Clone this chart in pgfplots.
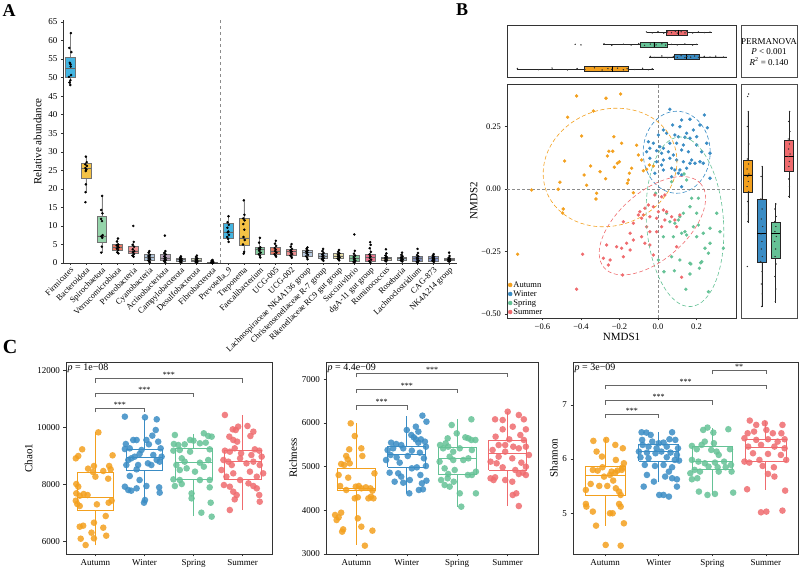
\documentclass[border=0pt]{standalone}
\usepackage{fontspec}
\setmainfont{Liberation Serif}
\usepackage{pgfplots}
\pgfplotsset{compat=1.18}
\usepackage{pgfplotstable}
\usepgfplotslibrary{statistics}

% season colours
\definecolor{cAut}{RGB}{243,160,30}
\definecolor{cWin}{RGB}{58,140,196}
\definecolor{cSpr}{RGB}{101,194,150}
\definecolor{cSum}{RGB}{239,107,110}
% taxon colours (panel A)
\definecolor{a0}{RGB}{34,168,221}
\definecolor{a1}{RGB}{242,183,37}
\definecolor{a2}{RGB}{131,204,155}
\definecolor{a3}{RGB}{225,95,70}
\definecolor{a4}{RGB}{236,127,128}
\definecolor{a5}{RGB}{165,188,212}
\definecolor{a6}{RGB}{176,150,178}
\definecolor{a7}{RGB}{163,182,200}
\definecolor{a8}{RGB}{196,203,170}
\definecolor{a9}{RGB}{190,180,150}
\definecolor{a12}{RGB}{115,196,144}
\definecolor{a13}{RGB}{222,96,74}
\definecolor{a14}{RGB}{232,122,124}
\definecolor{a15}{RGB}{168,190,216}
\definecolor{a16}{RGB}{165,185,205}
\definecolor{a17}{RGB}{232,222,160}
\definecolor{a18}{RGB}{108,192,138}
\definecolor{a19}{RGB}{226,92,122}
\definecolor{a20}{RGB}{218,200,170}
\definecolor{a21}{RGB}{160,185,200}
\definecolor{a22}{RGB}{100,118,170}
\definecolor{a23}{RGB}{120,140,205}
\definecolor{a24}{RGB}{160,165,180}

\newcommand{\fs}[1]{\fontsize{#1}{#1}\selectfont}

% ---------------- panel A: sample points ----------------
\pgfplotstableread{
x y
0.05 62.0
-0.05 58.0
0.08 56.9
-0.02 54.0
0.03 53.6
0.06 50.7
-0.07 50.2
0.02 49.3
-0.04 48.7
0.01 48.0
0.04 53.0
1.00 28.7
1.05 27.2
0.96 26.6
1.06 26.2
0.97 25.6
1.03 25.2
0.99 24.8
1.00 21.2
0.98 19.1
0.97 16.4
2.03 18.1
1.97 14.3
2.05 13.4
1.96 11.9
2.02 11.3
1.98 7.2
2.04 6.8
2.01 4.4
1.97 2.8
2.06 7.5
3.03 6.6
2.97 5.8
3.05 5.0
2.95 4.8
3.02 4.5
3.07 4.2
2.96 3.9
3.04 3.5
2.99 2.9
3.06 2.6
4.00 10.0
4.03 5.7
3.96 4.9
4.05 4.4
3.97 3.7
4.06 3.2
3.98 2.9
4.04 2.4
3.95 2.0
4.02 1.7
5.02 3.2
4.97 2.8
5.05 2.2
4.96 1.9
5.03 1.6
4.98 1.3
5.06 1.0
4.95 0.7
5.01 0.4
5.04 0.2
6.00 7.4
6.03 3.2
5.96 2.7
6.05 2.3
5.97 1.8
6.04 1.4
5.98 1.1
6.06 0.8
5.95 0.5
6.02 0.2
7.02 1.8
6.97 1.5
7.05 1.2
6.96 1.0
7.03 0.9
6.98 0.8
7.06 0.6
6.95 0.4
7.01 0.3
7.04 0.2
8.03 2.0
7.97 1.6
8.05 1.2
7.96 1.0
8.02 0.8
7.98 0.7
8.06 0.5
7.95 0.3
8.01 0.2
8.04 0.1
9.02 0.8
8.97 0.6
9.05 0.4
8.96 0.3
9.03 0.2
8.98 0.2
9.06 0.1
8.95 0.1
9.01 0.05
9.04 0.0
10.03 12.6
9.97 11.0
10.05 10.3
9.96 9.5
10.02 8.5
9.98 8.3
10.06 7.6
9.95 7.0
10.01 6.5
10.04 5.7
11.00 16.9
11.04 13.0
10.96 12.0
11.05 11.5
10.97 10.5
11.03 9.0
10.98 7.0
11.06 6.2
10.95 5.0
11.02 3.0
10.99 2.5
12.02 6.8
11.97 5.5
12.05 4.2
11.96 3.9
12.03 3.7
11.98 3.3
12.06 2.8
11.95 2.4
12.01 2.0
12.04 1.5
13.03 6.0
12.97 5.2
13.05 4.6
12.96 4.0
13.02 3.6
12.98 3.2
13.06 2.8
12.95 2.4
13.01 2.0
13.04 1.7
14.02 5.1
13.97 4.4
14.05 3.8
13.96 3.4
14.03 3.1
13.98 2.8
14.06 2.4
13.95 2.0
14.01 1.7
14.04 1.4
15.03 4.2
14.97 3.8
15.05 3.4
14.96 3.1
15.02 2.9
14.98 2.6
15.06 2.2
14.95 1.8
15.01 1.4
15.04 1.0
16.02 3.8
15.97 3.2
16.05 2.7
15.96 2.3
16.03 2.0
15.98 1.7
16.06 1.3
15.95 1.0
16.01 0.8
16.04 0.6
17.03 3.5
16.97 3.0
17.05 2.6
16.96 2.3
17.02 2.0
16.98 1.8
17.06 1.5
16.95 1.2
17.01 0.9
17.04 0.7
18.00 7.7
18.03 3.3
17.97 2.5
18.05 2.0
17.96 1.6
18.02 1.2
17.98 0.9
18.06 0.6
17.95 0.3
18.01 0.1
19.00 5.6
19.03 4.9
18.97 4.0
19.05 3.0
18.96 2.3
19.02 1.8
18.98 1.4
19.06 0.9
18.95 0.5
19.01 0.1
20.00 3.7
20.03 2.6
19.97 2.0
20.05 1.6
19.96 1.4
20.02 1.2
19.98 1.0
20.06 0.8
19.95 0.6
20.01 0.4
21.02 2.8
20.97 2.2
21.05 1.8
20.96 1.5
21.03 1.3
20.98 1.1
21.06 0.9
20.95 0.7
21.01 0.5
21.04 0.4
22.00 3.8
22.03 2.7
21.97 2.1
22.05 1.8
21.96 1.4
22.02 1.2
21.98 0.9
22.06 0.6
21.95 0.3
22.01 0.1
23.02 2.4
22.97 2.0
23.05 1.7
22.96 1.4
23.03 1.2
22.98 1.0
23.06 0.8
22.95 0.6
23.01 0.4
23.04 0.3
24.00 2.8
24.03 1.9
23.97 1.4
24.05 1.2
23.96 1.0
24.02 0.9
23.98 0.8
24.06 0.6
23.95 0.5
24.01 0.4
}\abund

% ---------------- panel B: NMDS scores ----------------
\pgfplotstableread{
x y
-0.423 0.372
-0.270 0.363
-0.194 0.380
-0.336 0.312
-0.469 0.287
-0.397 0.212
-0.229 0.209
-0.111 0.175
-0.255 0.151
-0.235 0.151
-0.263 0.132
-0.485 0.112
-0.350 0.092
-0.201 0.109
-0.211 0.103
-0.227 0.087
-0.272 0.041
-0.384 0.056
-0.371 0.015
-0.509 0.027
-0.518 -0.001
-0.656 -0.004
-0.319 -0.017
-0.322 -0.040
-0.492 -0.080
-0.495 -0.096
-0.137 0.083
-0.149 0.063
-0.154 0.036
-0.159 0.023
-0.128 -0.015
-0.076 0.073
-0.085 0.116
-0.045 0.096
-0.059 0.079
-0.024 0.092
-0.729 -0.261
-0.189 0.183
-0.301 0.069
-0.102 0.136
}\nmAut

\pgfplotstableread{
x y
0.062 0.319
0.123 0.276
0.166 0.279
0.076 0.256
0.114 0.249
0.149 0.223
0.184 0.236
0.218 0.256
0.241 0.296
0.256 0.245
0.028 0.236
0.002 0.216
0.045 0.223
0.088 0.216
0.106 0.209
0.140 0.207
0.166 0.203
-0.050 0.189
-0.024 0.183
0.010 0.169
0.028 0.163
0.062 0.183
0.097 0.183
0.132 0.176
0.201 0.176
0.253 0.183
-0.059 0.149
-0.042 0.163
-0.007 0.153
0.019 0.143
0.054 0.149
0.080 0.136
0.123 0.156
0.158 0.149
0.175 0.116
0.192 0.103
0.218 0.109
0.235 0.103
0.270 0.143
0.028 0.116
0.062 0.123
0.097 0.116
0.132 0.109
0.166 0.103
-0.007 0.109
0.019 0.096
0.071 0.083
0.088 0.076
0.114 0.076
0.106 0.063
0.123 0.056
0.149 0.083
0.028 0.076
0.071 0.049
0.123 0.009
0.270 0.043
-0.042 0.123
-0.016 0.063
0.201 0.209
0.227 0.149
}\nmWin

\pgfplotstableread{
x y
0.071 0.029
0.135 0.060
0.149 0.036
0.175 -0.037
0.210 -0.037
0.166 -0.071
0.132 -0.097
0.114 -0.111
0.106 -0.124
0.062 -0.131
0.088 -0.137
0.045 -0.097
0.201 -0.097
0.184 -0.151
0.305 -0.097
0.235 -0.177
0.270 -0.217
0.339 -0.237
0.244 -0.237
0.080 -0.191
0.123 -0.177
0.149 -0.184
0.028 -0.191
0.210 -0.144
0.270 -0.157
0.140 -0.171
0.071 -0.271
0.166 -0.297
0.227 -0.291
0.262 -0.257
0.114 -0.284
0.171 -0.300
0.222 -0.295
0.031 -0.331
0.085 -0.327
0.166 -0.340
0.215 -0.317
0.145 -0.401
0.262 -0.411
0.002 -0.284
0.322 -0.171
0.201 -0.191
-0.012 -0.017
}\nmSpr

\pgfplotstableread{
x y
-0.050 -0.064
-0.068 -0.077
-0.094 -0.091
-0.076 -0.104
-0.024 -0.071
0.002 -0.091
0.028 -0.084
0.045 -0.091
-0.016 -0.024
0.019 -0.031
0.036 -0.024
-0.042 -0.111
-0.007 -0.117
0.036 -0.124
0.071 -0.111
0.088 -0.124
0.114 -0.104
-0.085 -0.117
-0.102 -0.104
-0.059 -0.151
-0.042 -0.171
0.097 -0.151
-0.180 -0.131
-0.128 -0.204
-0.145 -0.177
-0.085 -0.191
-0.068 -0.217
-0.042 -0.224
-0.163 -0.217
-0.189 -0.237
-0.215 -0.231
-0.267 -0.224
-0.180 -0.271
-0.284 -0.277
-0.249 -0.284
-0.145 -0.244
0.097 -0.231
-0.024 -0.264
-0.391 -0.261
-0.007 -0.171
-0.258 -0.304
-0.184 -0.344
0.123 -0.353
-0.423 -0.401
-0.128 -0.137
0.019 -0.151
}\nmSum

% ---------------- panel C: alpha diversity ----------------
\pgfplotstableread{
x y
1.06 9824
0.73 9230
0.65 8997
0.60 8915
1.35 9020
0.85 8554
0.97 8647
0.95 8437
1.00 8274
1.16 8472
1.28 8647
1.31 8530
1.26 8204
0.61 8017
0.65 7924
0.61 7691
0.68 7609
0.76 7667
0.84 7632
0.60 7434
0.63 7318
0.68 7248
1.03 7306
1.27 7364
1.33 7434
1.21 6898
0.97 6665
0.75 6560
0.68 6525
1.16 6490
0.92 6315
0.97 6117
1.22 6210
0.70 6105
0.80 5883
}\chAut
\pgfplotstableread{
x y
1.60 10373
2.01 10349
2.25 10279
1.77 9556
1.84 9556
1.62 9416
1.60 9241
1.70 9265
2.04 9556
2.09 9405
2.16 9708
2.23 9906
2.28 9498
2.33 9265
2.35 8973
2.31 8798
2.25 8857
2.18 9032
1.94 9207
1.90 9067
1.80 8973
1.73 8915
1.67 8857
1.63 8682
1.87 8682
2.07 8740
2.14 8682
1.84 8530
1.70 8297
1.90 8157
2.04 7947
1.60 7924
1.67 7807
1.73 7784
1.84 7865
2.01 7457
1.99 7364
2.30 7900
2.31 7714
}\chWin
\pgfplotstableread{
x y
2.62 9731
2.93 9556
3.00 9533
3.21 9790
3.30 9696
3.37 9673
2.60 9416
2.69 9381
2.82 9405
3.13 9440
3.25 9463
3.33 9230
2.59 9183
2.72 9207
2.93 9148
2.76 8915
2.82 8798
2.65 8682
3.13 8763
3.30 8857
3.21 8624
2.72 8507
2.86 8565
3.03 8449
2.59 8180
2.72 8157
3.13 8157
3.33 8157
2.62 7947
2.76 8017
3.33 7900
2.96 7690
2.96 7516
3.35 7364
3.16 7014
3.37 6875
}\chSpr
\pgfplotstableread{
x y
3.64 10431
3.91 10023
4.10 10046
3.80 9929
3.86 9906
4.22 9848
3.73 9673
4.16 9696
3.81 9556
3.89 9498
3.64 9183
3.74 9148
3.84 9265
4.25 9230
4.34 9183
4.39 8973
4.18 9032
3.97 9090
3.61 8857
3.71 8798
3.78 8682
3.95 8915
4.08 8740
4.22 8798
4.35 8682
3.57 8507
3.67 8274
3.81 8390
4.15 8449
4.29 8274
4.42 8390
3.62 7982
3.74 7924
3.95 8157
4.12 8040
4.22 7947
3.81 7749
3.88 7632
4.29 7865
4.34 7632
4.35 7399
3.84 7480
3.74 7108
}\chSum

\pgfplotstableread{
x y
0.89 5990
0.97 5700
0.86 5395
1.10 5418
1.12 5243
0.80 5243
0.83 5166
0.70 5060
0.76 5037
0.87 5075
0.65 4808
1.36 4846
0.84 4747
0.68 4556
0.80 4465
0.99 4541
1.05 4556
1.10 4503
1.19 4526
1.28 4503
1.32 4450
0.97 4274
1.03 4297
1.24 4274
1.29 4312
1.34 4274
0.58 3893
0.65 3839
0.61 3778
0.70 3946
1.03 3816
1.10 3625
0.74 3564
0.72 3511
1.32 3534
1.17 3191
}\riAut
\pgfplotstableread{
x y
2.31 6166
2.39 6028
2.18 5914
2.00 5838
2.23 5800
2.09 5723
2.14 5670
2.18 5624
2.28 5624
2.23 5548
1.69 5548
1.79 5517
1.89 5494
2.36 5571
2.38 5456
1.62 5380
1.73 5418
1.93 5418
2.10 5365
2.26 5319
1.68 5266
1.80 5212
2.02 5243
2.34 5190
1.59 5151
1.86 5090
2.38 5014
1.66 4861
1.83 4846
2.10 4960
2.20 4983
1.89 4770
2.27 4808
2.06 4693
1.76 4655
2.30 4617
1.93 4632
2.39 4678
2.24 4465
2.32 4480
2.05 4388
}\riWin
\pgfplotstableread{
x y
2.89 5952
3.28 6082
2.99 5761
3.16 5670
3.22 5647
2.81 5647
2.77 5533
2.66 5494
2.72 5418
2.82 5456
2.92 5342
3.05 5418
3.29 5380
3.28 5609
3.36 5609
2.85 5227
2.92 5151
3.12 5151
3.22 5189
2.65 5113
2.75 4960
2.95 4922
2.82 4831
2.68 4693
2.81 4732
2.93 4655
3.21 4808
3.29 4808
3.37 4884
2.75 4579
2.85 4541
3.05 4388
3.37 4388
3.08 4083
}\riSpr
\pgfplotstableread{
x y
4.00 6257
3.75 6082
3.90 6066
4.22 6181
4.32 6082
3.90 5853
4.10 5914
4.36 5853
3.76 5685
4.25 5723
4.32 5609
4.03 5624
3.82 5494
3.95 5494
4.11 5456
4.22 5418
3.70 5380
3.95 5342
4.36 5456
4.42 5266
3.82 5227
4.09 5189
3.66 5113
3.78 5075
4.27 5090
4.36 4998
3.90 4983
4.15 4922
4.30 4861
4.22 4831
4.36 4808
3.75 4755
3.66 4732
3.72 4693
3.95 4693
4.09 4655
4.10 4350
4.17 4388
4.22 4098
}\riSum

\pgfplotstableread{
x y
1.02 6.353
0.78 6.335
1.19 6.261
1.33 6.199
0.84 6.138
0.94 6.046
1.20 5.984
1.35 5.923
1.32 5.843
0.77 5.800
0.86 5.787
0.95 5.849
1.12 5.769
1.23 5.787
1.31 5.800
1.09 5.707
1.19 5.750
0.98 5.676
1.15 5.603
0.73 5.541
0.89 5.504
1.04 5.504
1.20 5.461
0.64 5.430
1.26 5.400
1.29 5.338
0.64 5.172
0.65 5.123
1.26 5.172
1.29 5.123
0.77 5.031
1.09 5.000
1.14 5.000
0.83 4.772
1.35 4.815
1.01 4.416
1.29 4.403
}\shAut
\pgfplotstableread{
x y
1.68 6.494
1.77 6.488
2.25 6.494
1.85 6.445
1.69 6.353
1.88 6.322
2.00 6.292
2.09 6.304
2.20 6.365
2.31 6.353
1.70 6.261
1.81 6.230
1.96 6.199
2.15 6.230
2.36 6.199
1.63 6.138
1.78 6.119
1.94 6.107
2.05 6.138
2.22 6.119
2.34 6.076
1.66 6.033
1.81 6.015
2.15 6.033
2.30 5.984
2.38 5.972
1.74 5.892
1.93 5.873
2.09 5.892
2.25 5.849
1.78 5.707
2.12 5.677
2.25 5.646
2.34 5.627
2.19 5.769
1.91 5.584
1.72 5.492
2.09 5.338
2.01 5.338
2.19 5.308
2.34 5.492
}\shWin
\pgfplotstableread{
x y
2.91 6.581
2.83 6.537
3.02 6.488
3.30 6.550
2.62 6.242
2.71 6.181
2.80 6.261
2.86 6.322
3.03 6.292
2.98 6.168
3.33 6.181
3.08 6.138
3.12 6.076
2.62 5.984
2.74 5.953
2.86 5.923
3.05 5.935
3.22 5.953
2.93 5.861
3.10 5.849
3.25 5.849
3.35 5.892
2.67 5.800
2.59 5.738
2.77 5.769
3.12 5.769
3.36 5.769
2.72 5.646
2.62 5.627
2.75 5.400
2.91 5.338
3.05 5.357
3.39 5.381
}\shSpr
\pgfplotstableread{
x y
3.70 6.710
3.82 6.630
3.98 6.660
4.31 6.630
3.66 6.476
3.78 6.507
4.01 6.537
4.13 6.476
4.29 6.476
3.60 6.384
3.82 6.353
4.04 6.365
4.22 6.322
4.35 6.365
3.67 6.230
3.91 6.261
4.16 6.230
4.35 6.199
3.76 6.107
4.04 6.095
4.28 6.076
3.60 5.953
3.69 5.935
3.88 5.984
4.38 5.984
3.94 5.873
4.15 5.849
4.04 5.726
4.16 5.677
3.65 5.443
4.36 5.418
3.91 5.018
4.01 5.031
4.31 5.049
}\shSum

% box of panel A: position, colour, whisker/quartile/median values
\newcommand{\boxA}[7]{%
  \addplot[forget plot, draw=black!55, fill=#2, fill opacity=0.85, line width=0.35pt,
    boxplot/draw direction=y,
    boxplot/every whisker/.style={black!50, line width=0.35pt},
    boxplot/every median/.style={black!60, line width=0.4pt},
    boxplot prepared={draw position=#1, lower whisker=#3, lower quartile=#4,
      median=#5, upper quartile=#6, upper whisker=#7, box extend=0.62, whisker extend=0}]
    coordinates {};}
% outlined box of panel C: colour, left, centre, right, lower whisker, Q1, median, Q3, upper whisker
\newcommand{\boxCC}[9]{%
  \addplot[forget plot, draw=#1, line width=0.75pt, line join=miter] coordinates {(#2,#6) (#4,#6) (#4,#8) (#2,#8) (#2,#6)};
  \addplot[forget plot, draw=#1, line width=0.75pt] coordinates {(#2,#7) (#4,#7)};
  \addplot[forget plot, draw=#1, line width=0.75pt] coordinates {(#3,#5) (#3,#6)};
  \addplot[forget plot, draw=#1, line width=0.75pt] coordinates {(#3,#8) (#3,#9)};}
% significance bracket: x1, x2, bar level, drop level, label position, label
\newcommand{\bracket}[6]{%
  \addplot[forget plot, black!60, line width=0.5pt] coordinates {(#1,#4) (#1,#3) (#2,#3) (#2,#4)};
  \node[anchor=south, inner sep=0.8pt, font=\fs{8}] at (axis cs:#5,#3) {#6};}
% jittered points of one season in panel C
\newcommand{\ptsC}[2]{%
  \addplot[forget plot, only marks, mark=*, mark size=3.3pt, color=#1,
    mark options={fill=#1, fill opacity=0.85, draw opacity=0}] table {#2};}
% marginal box of panel B
\newcommand{\boxB}[8]{%
  \addplot[forget plot, draw=black!85, fill=#2, line width=0.35pt,
    boxplot/draw direction=#8,
    boxplot/every whisker/.style={black!85, line width=0.35pt},
    boxplot/every median/.style={black, line width=0.6pt},
    boxplot prepared={draw position=#1, lower whisker=#3, lower quartile=#4,
      median=#5, upper quartile=#6, upper whisker=#7, box extend=\boxBext, whisker extend=0}]
    coordinates {};}

\pgfplotsset{
  panel/.style={scale only axis, anchor=south west, tick align=outside,
    major tick length=2.5pt, tick style={black!80, line width=0.45pt},
    axis line style={black!80, line width=0.5pt},
    /pgf/number format/assume math mode=true, /pgf/number format/1000 sep={},
    scaled ticks=false,
    tick label style={font=\fs{9}}, label style={font=\fs{11}}},
  cpanel/.style={panel, width=#1, height=192pt, xmin=0.4, xmax=4.6,
    xtick={1,2,3,4}, xticklabels={Autumn,Winter,Spring,Summer},
    xtick pos=bottom, ytick pos=left, clip=false,
    ylabel style={yshift=-2pt}},
}

\begin{document}
\begin{tikzpicture}

% ======================= A =======================
\begin{axis}[panel, at={(63pt,304pt)}, width=394pt, height=243.2pt,
  xmin=-0.45, xmax=24.5, ymin=0, ymax=65.6,
  axis x line*=bottom, axis y line*=left,
  ytick={0,5,...,65}, xtick={0,...,24},
  xticklabels={Firmicutes, Bacteroidota, Spirochaetota, Verrucomicrobiota, Proteobacteria,
    Cyanobacteria, Actinobacteriota, Campylobacterota, Desulfobacterota, Fibrobacterota,
    Prevotella\_9, Treponema, Faecalibacterium, UCG-005, UCG-002,
    Lachnospiraceae NK4A136 group, Christensenellaceae R-7 group, Rikenellaceae RC9 gut group,
    Succinivibrio, dgA-11 gut group, Ruminococcus, Roseburia, Lachnoclostridium, CAG-873,
    NK4A214 group},
  xticklabel style={rotate=45, anchor=north east, inner sep=1pt, font=\fs{8.4}},
  major tick length=2pt,
  ylabel={Relative abundance}, clip=false]
\draw[black!45, dashed, line width=0.5pt] (axis cs:9.5,0) -- (axis cs:9.5,65.6);
\boxA{0}{a0}{48.0}{50.0}{52.5}{55.5}{62.0}
\boxA{1}{a1}{19.1}{22.8}{25.5}{27.0}{28.7}
\boxA{2}{a2}{2.8}{5.5}{7.3}{12.7}{18.1}
\boxA{3}{a3}{2.6}{3.5}{4.2}{5.0}{6.7}
\boxA{4}{a4}{1.7}{2.6}{3.3}{4.5}{5.7}
\boxA{5}{a5}{0.2}{0.8}{1.6}{2.3}{3.3}
\boxA{6}{a6}{0.2}{0.7}{1.4}{2.4}{3.3}
\boxA{7}{a7}{0.2}{0.5}{0.9}{1.3}{1.8}
\boxA{8}{a8}{0.1}{0.4}{0.8}{1.3}{2.0}
\boxA{9}{a9}{0.0}{0.1}{0.2}{0.35}{0.8}
\boxA{10}{a0}{5.7}{6.7}{8.4}{10.7}{12.7}
\boxA{11}{a1}{2.5}{4.9}{6.8}{12.1}{17.0}
\boxA{12}{a12}{1.5}{2.5}{3.7}{4.2}{6.8}
\boxA{13}{a13}{1.7}{2.4}{3.3}{4.2}{6.0}
\boxA{14}{a14}{1.4}{2.1}{3.1}{3.8}{5.1}
\boxA{15}{a15}{1.0}{1.9}{2.8}{3.5}{4.2}
\boxA{16}{a16}{0.6}{1.2}{1.9}{2.6}{3.8}
\boxA{17}{a17}{0.7}{1.2}{1.9}{2.6}{3.5}
\boxA{18}{a18}{0.1}{0.6}{1.2}{2.2}{3.3}
\boxA{19}{a19}{0.1}{0.6}{1.5}{2.4}{4.0}
\boxA{20}{a20}{0.4}{0.8}{1.3}{1.7}{2.6}
\boxA{21}{a21}{0.4}{0.7}{1.2}{1.7}{2.8}
\boxA{22}{a22}{0.1}{0.5}{1.2}{1.9}{2.8}
\boxA{23}{a23}{0.3}{0.5}{1.2}{1.9}{2.4}
\boxA{24}{a24}{0.4}{0.7}{1.0}{1.3}{1.9}
\addplot[forget plot, only marks, mark=*, mark size=1.05pt, black] table {\abund};
\end{axis}

% ======================= B: top marginal =======================
\def\boxBext{0.42}
\begin{axis}[panel, at={(507pt,490pt)}, width=229pt, height=52pt,
  xmin=-0.784, xmax=0.405, ymin=0.35, ymax=4.6, ticks=none, clip=false]
\boxB{1}{cAut}{-0.734}{-0.383}{-0.236}{-0.154}{-0.021}{x}
\boxB{2}{cWin}{-0.045}{0.083}{0.149}{0.213}{0.357}{x}
\boxB{3}{cSpr}{-0.284}{-0.094}{-0.021}{0.050}{0.209}{x}
\boxB{4}{cSum}{-0.059}{0.045}{0.106}{0.152}{0.279}{x}
\addplot[forget plot, only marks, mark=*, mark size=0.45pt, black!80] coordinates {
 (-0.73,1.05) (-0.62,0.95) (-0.55,1.08) (-0.47,0.93) (-0.42,1.04) (-0.38,0.96) (-0.33,1.1)
 (-0.29,0.92) (-0.26,1.03) (-0.24,0.97) (-0.21,1.07) (-0.18,0.94) (-0.16,1.02) (-0.12,0.96)
 (-0.08,1.06) (-0.05,0.95) (-0.03,1.02)
 (-0.04,2.04) (-0.02,1.95) (0.02,2.07) (0.05,1.93) (0.08,2.03) (0.10,1.96) (0.12,2.09)
 (0.14,1.94) (0.15,2.02) (0.17,1.97) (0.19,2.06) (0.21,1.95) (0.24,2.03) (0.27,1.97)
 (0.30,2.05) (0.34,1.98)
 (-0.43,3.02) (-0.40,2.97) (-0.28,3.06) (-0.24,2.94) (-0.18,3.03) (-0.14,2.96) (-0.10,3.08)
 (-0.07,2.93) (-0.04,3.04) (-0.01,2.97) (0.02,3.06) (0.04,2.95) (0.07,3.02) (0.10,2.97)
 (0.14,3.05) (0.18,2.96) (0.20,3.01)
 (-0.06,4.03) (-0.03,3.96) (0.0,4.06) (0.03,3.94) (0.05,4.03) (0.07,3.97) (0.09,4.08)
 (0.10,3.93) (0.12,4.04) (0.14,3.96) (0.15,4.06) (0.18,3.95) (0.21,4.03) (0.24,3.97) (0.27,4.02)};
\end{axis}

% PERMANOVA box
\draw[black!70, line width=0.7pt] (741pt,490pt) rectangle (797pt,542pt);
\node[font=\fs{9}] at (769pt,525pt) {PERMANOVA};
\node[font=\fs{9}] at (769pt,515.5pt) {\textit{P} < 0.001};
\node[font=\fs{9}] at (769pt,505.5pt) {\textit{R}\textsuperscript{2} = 0.140};

% ======================= B: ordination =======================
\begin{axis}[panel, at={(507pt,249pt)}, width=229pt, height=234pt,
  xmin=-0.784, xmax=0.405, ymin=-0.516, ymax=0.42,
  xtick={-0.6,-0.4,-0.2,0,0.2}, xticklabels={−0.6,−0.4,−0.2,0.0,0.2},
  ytick={-0.5,-0.25,0,0.25}, yticklabels={−0.50,−0.25,0.00,0.25},
  xtick pos=bottom, ytick pos=left,
  tick label style={font=\fs{8.5}},
  xlabel={NMDS1}, ylabel={NMDS2},
  xlabel style={yshift=3pt}, ylabel style={yshift=-3pt},
  legend cell align=left,
  legend style={at={(0,0)}, anchor=south west, draw=none, fill=none,
    font=\fs{8.5}, inner sep=1pt, row sep=-0.5pt,
    nodes={inner sep=1.2pt}},
  legend image post style={mark size=2pt}]
\draw[black!45, dash pattern=on 3pt off 2pt, line width=0.5pt] (axis cs:0,-0.516) -- (axis cs:0,0.42);
\draw[black!45, dash pattern=on 3pt off 2pt, line width=0.5pt] (axis cs:-0.784,0) -- (axis cs:0.405,0);
\addplot[only marks, mark=*, mark size=1.5pt, color=cAut, mark options={fill=cAut}] table {\nmAut};
\addplot[only marks, mark=*, mark size=1.5pt, color=cWin, mark options={fill=cWin}] table {\nmWin};
\addplot[only marks, mark=*, mark size=1.5pt, color=cSpr, mark options={fill=cSpr}] table {\nmSpr};
\addplot[only marks, mark=*, mark size=1.5pt, color=cSum, mark options={fill=cSum}] table {\nmSum};
\legend{Autumn, Winter, Spring, Summer}
% centres of the 95% confidence ellipses
\coordinate (eAut) at (axis cs:-0.249,0.086);
\coordinate (eWin) at (axis cs:0.097,0.147);
\coordinate (eSpr) at (axis cs:0.140,-0.131);
\coordinate (eSum) at (axis cs:-0.029,-0.147);
\end{axis}
\draw[cAut, dash pattern=on 4pt off 2.5pt, line width=0.6pt, rotate around={20:(eAut)}]
  (eAut) ellipse [x radius=68pt, y radius=58pt];
\draw[cWin, dash pattern=on 4pt off 2.5pt, line width=0.6pt]
  (eWin) ellipse [x radius=33.5pt, y radius=41pt];
\draw[cSpr, dash pattern=on 4pt off 2.5pt, line width=0.6pt, rotate around={4:(eSpr)}]
  (eSpr) ellipse [x radius=38.5pt, y radius=85pt];
\draw[cSum, dash pattern=on 4pt off 2.5pt, line width=0.6pt, rotate around={41:(eSum)}]
  (eSum) ellipse [x radius=64pt, y radius=34pt];

% ======================= B: right marginal =======================
\def\boxBext{0.65}
\begin{axis}[panel, at={(741pt,249pt)}, width=56pt, height=234pt,
  xmin=0.49, xmax=4.58, ymin=-0.516, ymax=0.42, ticks=none, clip=false,
  axis line style={black!70, line width=0.7pt}]
\boxB{1}{cAut}{-0.135}{-0.011}{0.056}{0.116}{0.309}{y}
\boxB{2}{cWin}{-0.471}{-0.291}{-0.177}{-0.041}{0.092}{y}
\boxB{3}{cSpr}{-0.457}{-0.277}{-0.177}{-0.131}{-0.057}{y}
\boxB{4}{cSum}{-0.037}{0.073}{0.129}{0.196}{0.313}{y}
\addplot[forget plot, only marks, mark=*, mark size=0.45pt, black!80] coordinates {
 (1.05,0.38) (0.97,0.37) (1.03,0.31) (0.95,0.25) (1.06,0.18) (0.96,0.12) (1.04,0.10) (0.93,0.08)
 (1.07,0.06) (0.98,0.05) (1.02,0.03) (0.94,0.01) (1.05,-0.01) (0.97,-0.05) (1.03,-0.10)
 (0.99,-0.13) (0.95,-0.31)
 (2.04,0.09) (1.96,0.05) (2.06,0.0) (1.94,-0.04) (2.03,-0.08) (1.97,-0.12) (2.07,-0.15)
 (1.95,-0.18) (2.02,-0.21) (1.98,-0.24) (2.05,-0.27) (1.93,-0.29) (2.03,-0.33) (1.97,-0.38)
 (2.04,-0.42) (1.99,-0.47)
 (3.04,-0.06) (2.96,-0.08) (3.06,-0.11) (2.94,-0.13) (3.03,-0.15) (2.97,-0.17) (3.07,-0.19)
 (2.95,-0.21) (3.02,-0.24) (2.98,-0.27) (3.05,-0.30) (2.96,-0.35) (3.03,-0.40) (2.99,-0.45)
 (4.04,0.31) (3.96,0.27) (4.06,0.23) (3.94,0.20) (4.03,0.18) (3.97,0.16) (4.07,0.14) (3.95,0.13)
 (4.02,0.11) (3.98,0.09) (4.05,0.07) (3.96,0.04) (4.03,0.01) (3.99,-0.03)};
\end{axis}

% ======================= C: Chao1 =======================
\begin{axis}[cpanel=206pt, at={(66pt,13pt)}, ymin=5570, ymax=12284,
  ytick={6000,8000,10000,12000}, ylabel={Chao1}]
\boxCC{cAut}{0.625}{1}{1.375}{5872}{7084}{7551}{8414}{9824}
\boxCC{cWin}{1.625}{2}{2.375}{7399}{8507}{8950}{9230}{10279}
\boxCC{cSpr}{2.625}{3}{3.375}{6898}{8192}{8763}{9265}{9755}
\boxCC{cSum}{3.625}{4}{4.375}{7108}{8180}{8822}{9207}{10431}
\ptsC{cAut}{\chAut}
\ptsC{cWin}{\chWin}
\ptsC{cSpr}{\chSpr}
\ptsC{cSum}{\chSum}
\bracket{1}{4}{11706}{11549}{2.5}{***}
\bracket{1}{3}{11189}{11049}{2}{***}
\bracket{1}{2}{10665}{10525}{1.5}{***}
\node[anchor=north west, inner sep=1.5pt, font=\fs{10}] at (rel axis cs:0,1) {\textit{p} = 1e−08};
\end{axis}

% ======================= C: Richness =======================
\begin{axis}[cpanel=212pt, at={(326pt,13pt)}, ymin=3000, ymax=7394,
  ytick={3000,4000,5000,6000,7000}, ylabel={Richness}]
\boxCC{cAut}{0.625}{1}{1.375}{3206}{4449}{4510}{4960}{5990}
\boxCC{cWin}{1.625}{2}{2.375}{4388}{4983}{5288}{5471}{6166}
\boxCC{cSpr}{2.625}{3}{3.375}{4083}{4823}{5189}{5441}{6082}
\boxCC{cSum}{3.625}{4}{4.375}{4098}{4922}{5304}{5594}{6242}
\ptsC{cAut}{\riAut}
\ptsC{cWin}{\riWin}
\ptsC{cSpr}{\riSpr}
\ptsC{cSum}{\riSum}
\bracket{1}{4}{7135}{7043}{2.5}{***}
\bracket{1}{3}{6776}{6684}{2}{***}
\bracket{1}{2}{6394}{6302}{1.5}{***}
\node[anchor=north west, inner sep=1.5pt, font=\fs{10}] at (rel axis cs:0,1) {\textit{p} = 4.4e−09};
\end{axis}

% ======================= C: Shannon =======================
\begin{axis}[cpanel=225pt, at={(573pt,13pt)}, ymin=4.249, ymax=7.79,
  ytick={5,6,7}, ylabel={Shannon}]
\boxCC{cAut}{0.625}{1}{1.375}{4.77}{5.338}{5.695}{5.873}{6.384}
\boxCC{cWin}{1.625}{2}{2.375}{5.572}{5.966}{6.138}{6.273}{6.494}
\boxCC{cSpr}{2.625}{3}{3.375}{5.338}{5.812}{5.953}{6.230}{6.58}
\boxCC{cSum}{3.625}{4}{4.375}{5.43}{5.953}{6.212}{6.365}{6.70}
\ptsC{cAut}{\shAut}
\ptsC{cWin}{\shWin}
\ptsC{cSpr}{\shSpr}
\ptsC{cSum}{\shSum}
\bracket{3}{4}{7.631}{7.561}{3.5}{**}
\bracket{1}{4}{7.358}{7.284}{2.5}{***}
\bracket{1}{3}{7.078}{7.004}{2}{***}
\bracket{1}{2}{6.827}{6.753}{1.5}{***}
\node[anchor=north west, inner sep=1.5pt, font=\fs{10}] at (rel axis cs:0,1) {\textit{p} = 3e−09};
\end{axis}

% panel letters
\node[font=\bfseries\fs{18}] at (9pt,556pt) {A};
\node[font=\bfseries\fs{18}] at (462pt,557pt) {B};
\node[font=\bfseries\fs{20}] at (10pt,220pt) {C};

\pgfresetboundingbox
\path[use as bounding box] (0,0) rectangle (800pt,567pt);
\end{tikzpicture}
\end{document}
